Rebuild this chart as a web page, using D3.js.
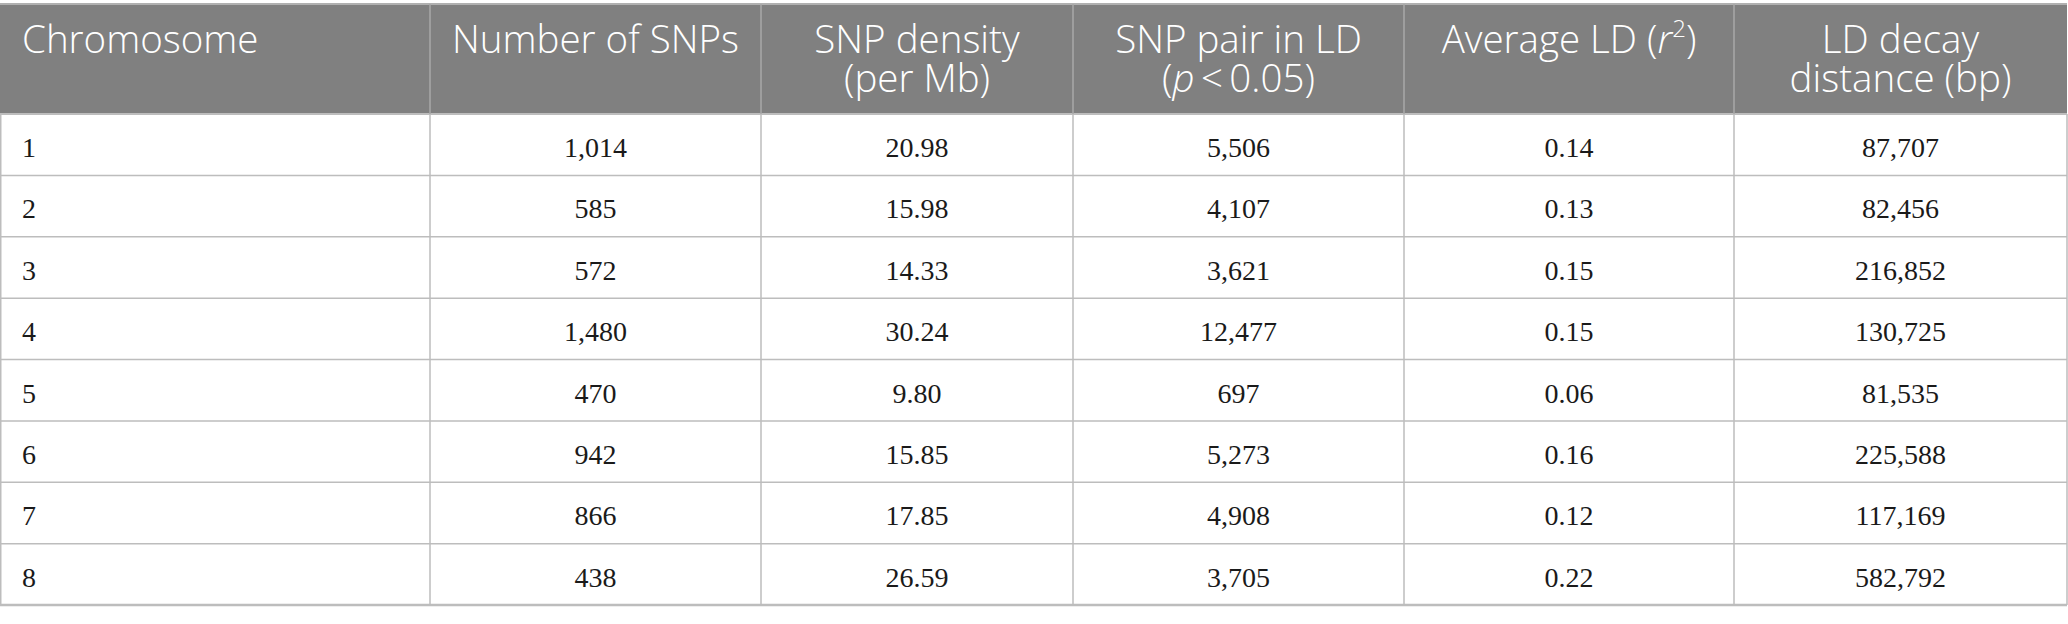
<!DOCTYPE html>
<html>
<head>
<meta charset="utf-8">
<script src="https://cdn.jsdelivr.net/npm/d3@7"></script>
<style>
  html, body { margin: 0; padding: 0; background: #fff; }
  svg { display: block; }
</style>
</head>
<body>
<div id="chart"></div>
<script>
// ---------------------------------------
// 1. Table data
// ---------------------------------------
const chromosomes = [1, 2, 3, 4, 5, 6, 7, 8];
const snpCounts   = [1014, 585, 572, 1480, 470, 942, 866, 438];
const snpDensity  = [20.98, 15.98, 14.33, 30.24, 9.80, 15.85, 17.85, 26.59];
const ldPairs     = [5506, 4107, 3621, 12477, 697, 5273, 4908, 3705];
const averageLD   = [0.14, 0.13, 0.15, 0.15, 0.06, 0.16, 0.12, 0.22];
const decayDist   = [87707, 82456, 216852, 130725, 81535, 225588, 117169, 582792];

// header lines, each line is a list of [text, style] pieces
const headers = [
  [[["Chromosome", ""]]],
  [[["Number of SNPs", ""]]],
  [[["SNP density", ""]], [["(per Mb)", ""]]],
  [[["SNP pair in LD", ""]], [["(", ""], ["p", "i"], ["\u2009<\u20090.05)", ""]]],
  [[["Average LD (", ""], ["r", "i"], ["2", "sup"], [")", ""]]],
  [[["LD decay", ""]], [["distance (bp)", ""]]]
];

const fmtInt = d3.format(",");
const fmtDec = d3.format(".2f");
const columns = [
  { values: chromosomes, fmt: String },
  { values: snpCounts,   fmt: fmtInt },
  { values: snpDensity,  fmt: fmtDec },
  { values: ldPairs,     fmt: fmtInt },
  { values: averageLD,   fmt: fmtDec },
  { values: decayDist,   fmt: fmtInt }
];

// ---------------------------------------
// 2. Layout
// ---------------------------------------
const width = 2068;
const height = 624;
const colEdges = [0, 430, 761, 1073, 1404, 1734, 2067];
const tableTop = 4;
const headerBottom = 114;
const tableBottom = 605;

const rowScale = d3.scaleBand()
  .domain(chromosomes)
  .range([headerBottom, tableBottom]);

const colIndex = d3.range(columns.length);
const colLeft = d3.scaleOrdinal().domain(colIndex).range(colEdges.slice(0, -1));
const colRight = d3.scaleOrdinal().domain(colIndex).range(colEdges.slice(1));
const cellX = i => i === 0 ? colLeft(i) + 22 : (colLeft(i) + colRight(i)) / 2;
const tableRight = colEdges[colEdges.length - 1];

const svg = d3.select("#chart")
  .append("svg")
  .attr("width", width)
  .attr("height", height);

// ---------------------------------------
// 3. Header
// ---------------------------------------
svg.append("rect")
  .attr("x", 0)
  .attr("y", tableTop)
  .attr("width", tableRight)
  .attr("height", headerBottom - tableTop)
  .attr("fill", "#808080");

svg.append("line")
  .attr("x1", 0).attr("x2", tableRight)
  .attr("y1", tableTop).attr("y2", tableTop)
  .attr("stroke", "#b0b0b0")
  .attr("stroke-width", 2);

// one <text> per header line
const headerLines = [];
headers.forEach((lines, ci) => {
  lines.forEach((pieces, li) => headerLines.push({ ci, li, pieces }));
});

svg.append("g")
  .attr("font-family", "'Open Sans', sans-serif")
  .attr("font-weight", 300)
  .attr("font-size", 38.5)
  .attr("fill", "#fff")
  .selectAll("text")
  .data(headerLines)
  .enter()
  .append("text")
  .attr("text-anchor", d => d.ci === 0 ? "start" : "middle")
  .attr("x", d => cellX(d.ci))
  .attr("y", d => 53 + d.li * 39)
  .each(function(d) {
    const t = d3.select(this);
    // plain lines need no tspans
    if (d.pieces.length === 1) {
      t.text(d.pieces[0][0]);
      return;
    }
    d.pieces.forEach(([txt, style]) => {
      const s = t.append("tspan").text(txt);
      if (style === "i") s.attr("font-style", "italic");
      if (style === "sup") s.attr("font-size", 24).attr("baseline-shift", "super");
    });
  });

// ---------------------------------------
// 4. Body cells
// ---------------------------------------
const body = svg.append("g")
  .attr("font-family", "'Liberation Serif', 'Times New Roman', serif")
  .attr("font-size", 28)
  .attr("fill", "#1a1a1a");

columns.forEach((col, ci) => {
  body.selectAll(null)
    .data(col.values)
    .enter()
    .append("text")
    .attr("text-anchor", ci === 0 ? "start" : "middle")
    .attr("x", cellX(ci))
    .attr("y", (d, i) => rowScale(chromosomes[i]) + 43)
    .text(d => col.fmt(d));
});

// ---------------------------------------
// 5. Grid lines
// ---------------------------------------
const grid = svg.append("g")
  .attr("stroke", "#bdbdbd")
  .attr("stroke-width", 1.5);

// horizontal row separators
grid.selectAll(".hline")
  .data(chromosomes.slice(1))
  .enter()
  .append("line")
  .attr("x1", 0).attr("x2", tableRight)
  .attr("y1", d => rowScale(d)).attr("y2", d => rowScale(d));

grid.append("line")
  .attr("x1", 0).attr("x2", tableRight)
  .attr("y1", headerBottom).attr("y2", headerBottom)
  .attr("stroke-width", 2);

grid.append("line")
  .attr("x1", 0).attr("x2", tableRight)
  .attr("y1", tableBottom).attr("y2", tableBottom)
  .attr("stroke-width", 2.5);

// vertical lines through the body
grid.selectAll(".vline")
  .data(colEdges)
  .enter()
  .append("line")
  .attr("x1", d => d === 0 ? 0.75 : d).attr("x2", d => d === 0 ? 0.75 : d)
  .attr("y1", headerBottom).attr("y2", tableBottom);

// lighter dividers inside the header
svg.append("g")
  .selectAll("line")
  .data(colEdges.slice(1, -1))
  .enter()
  .append("line")
  .attr("x1", d => d).attr("x2", d => d)
  .attr("y1", tableTop).attr("y2", headerBottom)
  .attr("stroke", "#a8a8a8")
  .attr("stroke-width", 1.5);
</script>
</body>
</html>
